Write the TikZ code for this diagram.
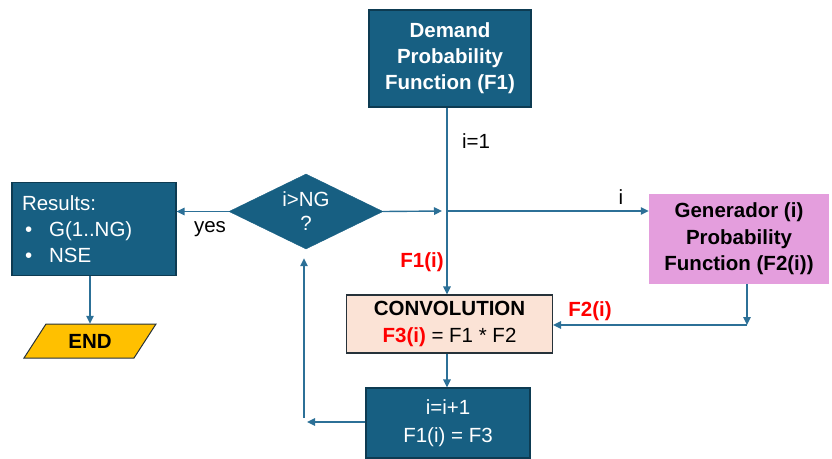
\documentclass[tikz,border=0pt]{standalone}
\usepackage{fontspec}
\setmainfont{Liberation Sans}
\usetikzlibrary{arrows.meta,shapes.geometric,calc}
\definecolor{boxblue}{HTML}{175F82}
\definecolor{boxedge}{HTML}{0D3B52}
\definecolor{flowc}{HTML}{2C7097}
\definecolor{genpink}{HTML}{E49EDD}
\definecolor{convpeach}{HTML}{FBE3D6}
\definecolor{endgold}{HTML}{FFC000}
\definecolor{darkedge}{HTML}{26323A}
\begin{document}
\begin{tikzpicture}[x=1pt,y=-1pt,
  bigfont/.style={font=\fontsize{20.5}{26}\selectfont},
  blk/.style={draw=boxedge, fill=boxblue, line width=1.2pt, text=white,
    align=center, inner sep=0pt, bigfont},
  flow/.style={draw=flowc, line width=1.4pt, -{Triangle[length=8pt,width=7.5pt]}},
  lbl/.style={bigfont, inner sep=0pt},
  redlbl/.style={inner sep=0pt, text=red, font=\bfseries\fontsize{20.5}{26}\selectfont}]
\useasboundingbox (0,0) rectangle (832,458);

% process boxes
\node[blk, minimum width=162pt, minimum height=97pt, font=\bfseries\fontsize{20.5}{26}\selectfont]
  (dem) at (450,58.5) {Demand\\Probability\\Function (F1)};
\node[blk, minimum width=164pt, minimum height=93pt, text width=144pt, align=left]
  (res) at (94,229) {Results:\\\hspace*{3pt}\textbullet\hspace{17pt}G(1..NG)\\\hspace*{3pt}\textbullet\hspace{17pt}NSE};
\node[diamond, aspect=2.05, fill=boxblue, draw=boxblue, minimum width=154pt, minimum height=75pt,
  inner sep=0pt, text=white, align=center, font=\fontsize{20.5}{24}\selectfont] (dec) at (306,211.5) {i>NG\\?};
\node[fill=genpink, minimum width=180pt, minimum height=90pt, inner sep=0pt, align=center,
  font=\bfseries\fontsize{20.5}{26.5}\selectfont] (gen) at (739,239) {Generador (i)\\Probability\\Function (F2(i))};
\node[draw=darkedge, line width=1.2pt, fill=convpeach, minimum width=206pt, minimum height=58pt,
  inner sep=0pt, align=center, font=\fontsize{20.5}{27}\selectfont] (conv) at (449.5,324)
  {\textbf{CONVOLUTION}\\\textcolor{red}{\textbf{F3(i)}} = F1 * F2};
\node[blk, minimum width=164pt, minimum height=70pt, font=\fontsize{20.5}{28}\selectfont]
  (inc) at (448,423) {i=i+1\\F1(i) = F3};

% terminal parallelogram
\filldraw[fill=endgold, draw=darkedge, line width=1pt] (46,324) -- (156,324) -- (134,358) -- (24,358) -- cycle;
\node[inner sep=0pt, minimum width=110pt, minimum height=34pt, font=\bfseries\fontsize{20.5}{24}\selectfont]
  (end) at (90,341) {END};

% junction points
\coordinate (j) at (447,211);
\coordinate (c2) at (747,325);
\coordinate (lp) at (304,422);

% connectors
\draw[flow] (j |- dem.south) -- (j |- conv.north);
\draw[flow] (dec.east) -- ([xshift=-5pt]j);
\draw[flow] (j) -- (j -| gen.west);
\draw[flow] (c2 |- gen.south) -- (c2);
\draw[flow] (c2) -- (c2 -| conv.east);
\draw[flow] (j |- conv.south) -- (j |- inc.north);
\draw[flow] (inc.west |- lp) -- ([xshift=3pt]lp);
\draw[flow] ([yshift=4pt]lp) -- ([yshift=-9pt]lp |- dec.south);
\draw[flow] (dec.west) -- (dec.west -| res.east);
\draw[flow] (res.south -| end.north) -- (end.north);

% labels
\node[lbl] (l1) at (476,141) {i=1};
\node[lbl] (lyes) at (210,229) {yes};
\node[lbl] (li) at (621,197) {i};
\node[redlbl] (lf1) at (422,262) {F1(i)};
\node[redlbl] (lf2) at (590,311) {F2(i)};
\end{tikzpicture}
\end{document}
